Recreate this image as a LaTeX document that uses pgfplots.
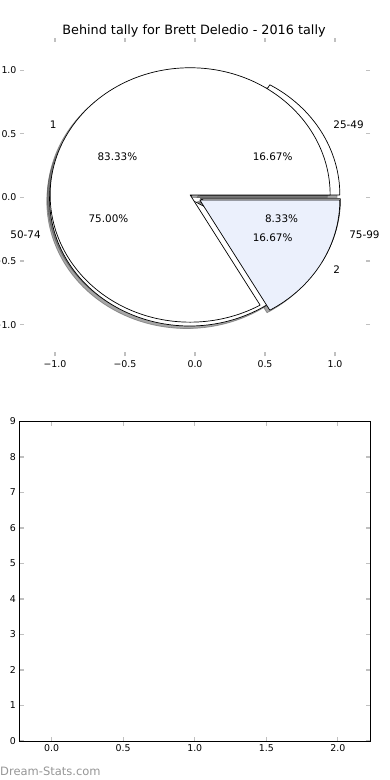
\documentclass[border=0pt]{standalone}
\usepackage{pgfplots}
\pgfplotsset{compat=1.18}
\usepackage{fontspec}
\setmainfont{DejaVu Sans}
\definecolor{slblue}{RGB}{235,240,252}
\definecolor{tickgray}{RGB}{192,192,192}
\definecolor{wmgray}{RGB}{150,150,150}
\definecolor{shadowgray}{RGB}{77,77,77}

\tikzset{
  pie text/.style={font=\fontsize{10.4}{12}\selectfont, inner sep=0pt},
  pie edge/.style={draw=black, line width=0.7pt, line join=round},
  pie shadow/.style={fill=shadowgray, draw=shadowgray, fill opacity=0.5, draw opacity=0.5, line width=0.7pt},
}

% slice: #1 start (percent), #2 size (percent), #3 style, #4 x-offset, #5 y-offset
\newcommand\pieslice[5]{%
  \pgfmathsetmacro\aS{3.6*#1}%
  \pgfmathsetmacro\aE{3.6*(#1+#2)}%
  \pgfmathsetmacro\aM{(\aS+\aE)/2}%
  \pgfmathsetmacro\cx{0.04*cos(\aM)+#4}%
  \pgfmathsetmacro\cy{0.04*sin(\aM)+#5}%
  \pgfmathsetmacro\px{\cx+cos(\aS)}%
  \pgfmathsetmacro\py{\cy+sin(\aS)}%
  \edef\tmp{\noexpand\filldraw[#3] (axis cs:\cx,\cy) -- (axis cs:\px,\py) arc[start angle=\aS,end angle=\aE,x radius=140pt,y radius=127.2pt] -- cycle;}%
  \tmp}

% labels: #1 start, #2 size, #3 label, #4 percent text
\newcommand\pietext[4]{%
  \pgfmathsetmacro\aS{3.6*#1}%
  \pgfmathsetmacro\aE{3.6*(#1+#2)}%
  \pgfmathsetmacro\aM{(\aS+\aE)/2}%
  \pgfmathsetmacro\cx{0.04*cos(\aM)}%
  \pgfmathsetmacro\cy{0.04*sin(\aM)}%
  \pgfmathsetmacro\lx{\cx+1.1*cos(\aM)}%
  \pgfmathsetmacro\ly{\cy+1.1*sin(\aM)}%
  \pgfmathsetmacro\tx{\cx+0.6*cos(\aM)}%
  \pgfmathsetmacro\ty{\cy+0.6*sin(\aM)}%
  \pgfmathtruncatemacro\ispos{\lx>0}%
  \ifnum\ispos=1 \def\anc{west}\else\def\anc{east}\fi
  \edef\tmp{\noexpand\node[pie text, anchor=\anc] at (axis cs:\lx,\ly) {\unexpanded{#3}};
    \noexpand\node[pie text, anchor=center] at (axis cs:\tx,\ty) {\unexpanded{#4}};}%
  \tmp}

\begin{document}
\begin{tikzpicture}
\useasboundingbox (0pt,0pt) rectangle (390pt,780pt);

\node[anchor=base, font=\fontsize{12.8}{15}\selectfont, inner sep=0pt] at (194pt,745pt) {Behind tally for Brett Deledio - 2016 tally};

\begin{axis}[
  at={(20pt,423.5pt)}, anchor=south west, scale only axis,
  width=350pt, height=318pt,
  xmin=-1.25, xmax=1.25, ymin=-1.25, ymax=1.25,
  axis line style={draw=none},
  xtick={-1,-0.5,0,0.5,1}, ytick={-1,-0.5,0,0.5,1},
  xticklabels={−1.0,−0.5,0.0,0.5,1.0},
  yticklabels={−1.0,−0.5,0.0,0.5,1.0},
  tick align=inside, major tick length=4pt,
  tick style={tickgray, line width=1.2pt},
  ticklabel style={font=\fontsize{9.4}{11}\selectfont},
  clip=false,
]
% shadows: pie B (25-49, 50-74, 75-99), then pie A (1, 2)
\pieslice{0}{16.67}{pie shadow}{-0.02}{-0.02}
\pieslice{16.67}{75.00}{pie shadow}{-0.02}{-0.02}
\pieslice{91.67}{8.33}{pie shadow}{-0.02}{-0.02}
\pieslice{0}{83.33}{pie shadow}{-0.02}{-0.02}
\pieslice{83.33}{16.67}{pie shadow}{-0.02}{-0.02}
% wedges: pie B
\pieslice{0}{16.67}{pie edge, fill=white}{0}{0}
\pieslice{16.67}{75.00}{pie edge, fill=white}{0}{0}
\pieslice{91.67}{8.33}{pie edge, fill=white}{0}{0}
% wedges: pie A
\pieslice{0}{83.33}{pie edge, fill=white}{0}{0}
\pieslice{83.33}{16.67}{pie edge, fill=slblue}{0}{0}
% texts
\pietext{0}{16.67}{25-49}{16.67\%}
\pietext{16.67}{75.00}{50-74}{75.00\%}
\pietext{91.67}{8.33}{75-99}{8.33\%}
\pietext{0}{83.33}{1}{83.33\%}
\pietext{83.33}{16.67}{2}{16.67\%}
\end{axis}

\begin{axis}[
  at={(19.5pt,39pt)}, anchor=south west, scale only axis,
  width=350.5pt, height=319.5pt,
  xmin=-0.225, xmax=2.225, ymin=0, ymax=9,
  axis line style={black, line width=0.9pt},
  xtick={0,0.5,1,1.5,2}, xticklabels={0.0,0.5,1.0,1.5,2.0},
  ytick={0,1,2,3,4,5,6,7,8,9}, yticklabels={0,1,2,3,4,5,6,7,8,9},
  tick align=inside, major tick length=4pt,
  tick style={tickgray, line width=1.2pt},
  ticklabel style={font=\fontsize{9.4}{11}\selectfont},
]
\end{axis}

\node[anchor=base west, text=wmgray, font=\fontsize{11.5}{13}\selectfont, inner sep=0pt] at (0pt,5pt) {Dream-Stats.com};
\end{tikzpicture}
\end{document}
